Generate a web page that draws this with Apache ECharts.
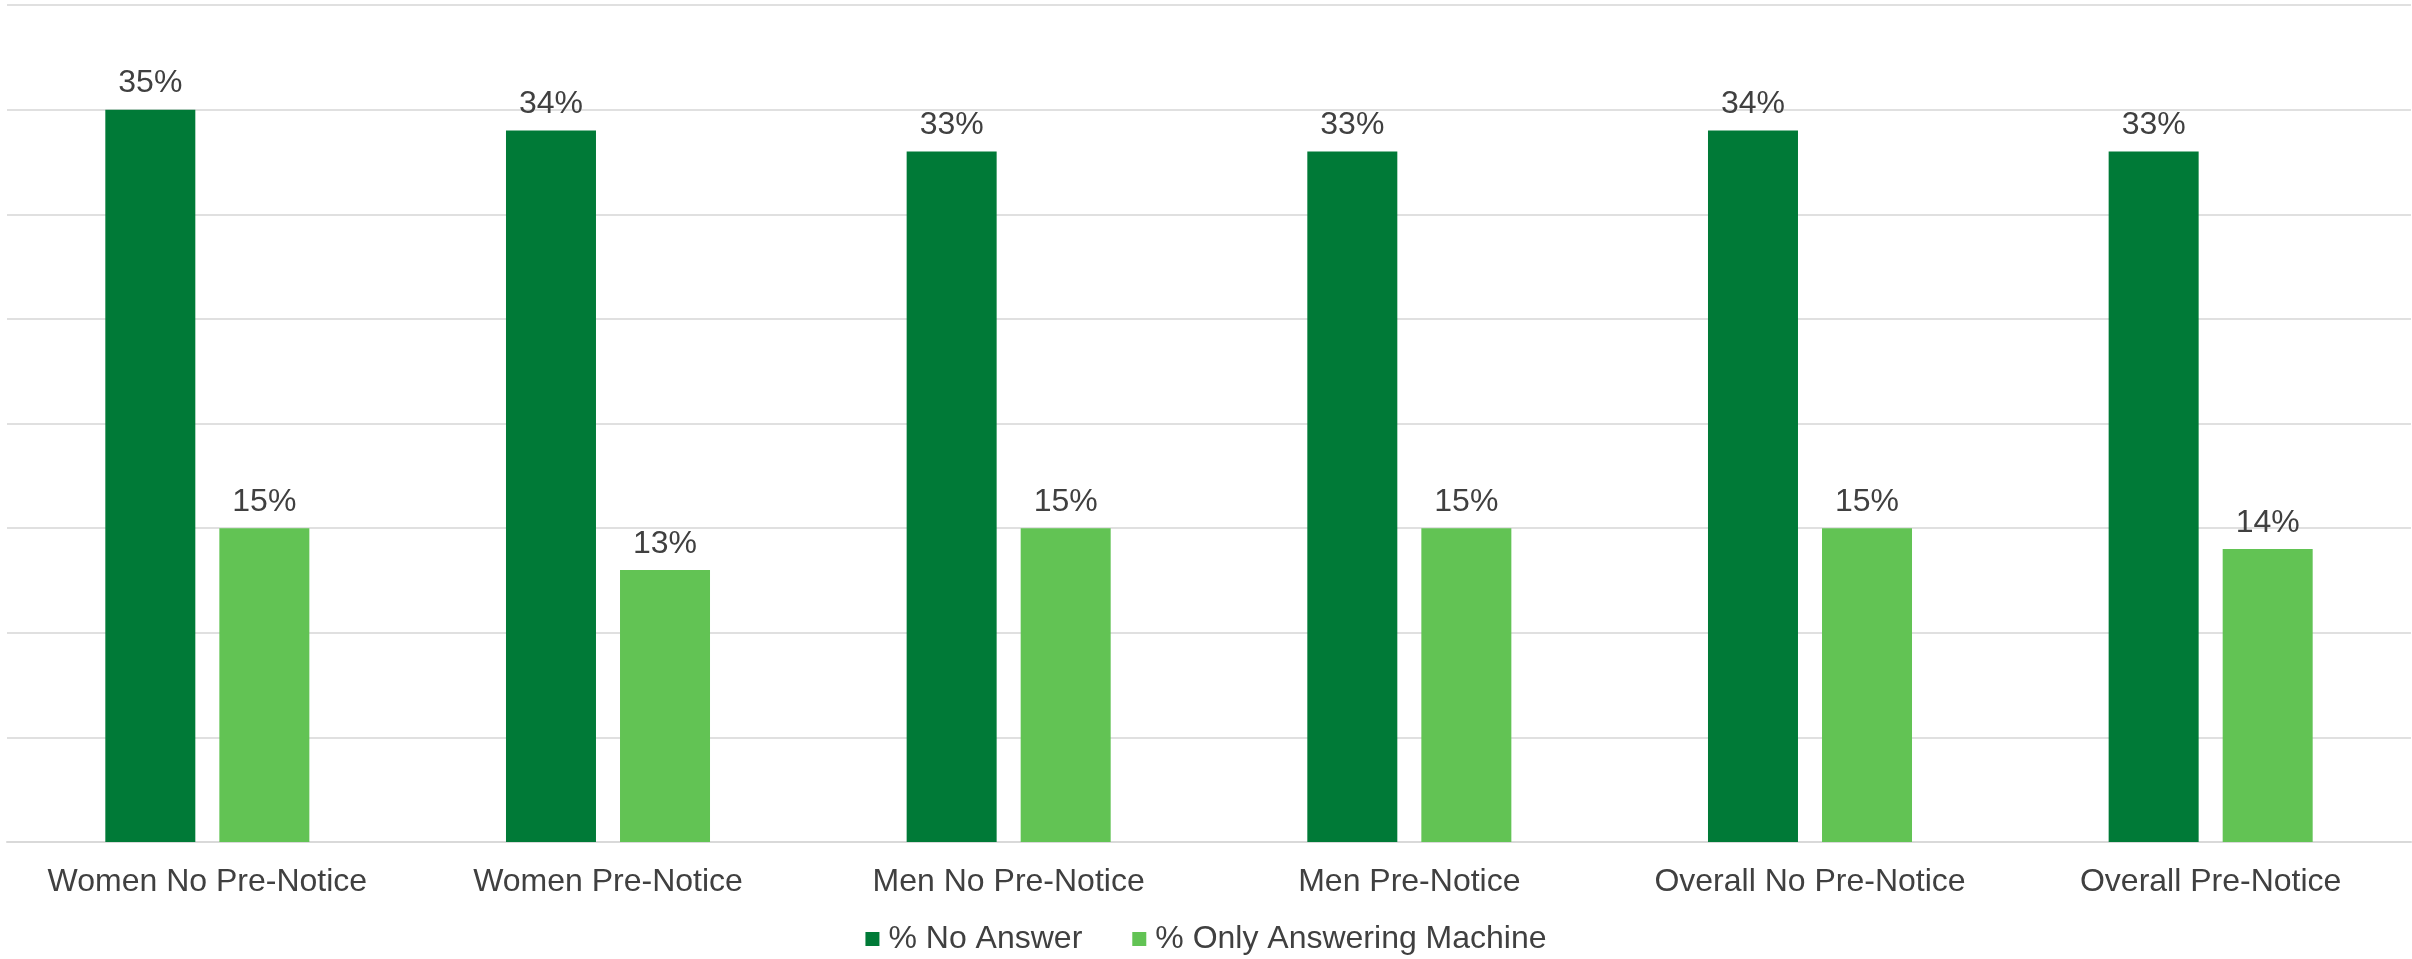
<!DOCTYPE html>
<html>
<head>
<meta charset="utf-8">
<script src="https://cdn.jsdelivr.net/npm/echarts@6/dist/echarts.min.js"></script>
<style>
  html, body { margin: 0; padding: 0; background: #ffffff; }
  #chart { width: 2412px; height: 959px; }
</style>
</head>
<body>
<div id="chart"></div>
<script>
// Survey contact outcomes by group (percent of calls)
const categories = [
  'Women No Pre-Notice',
  'Women Pre-Notice',
  'Men No Pre-Notice',
  'Men Pre-Notice',
  'Overall No Pre-Notice',
  'Overall Pre-Notice'
];
const noAnswer = [35, 34, 33, 33, 34, 33];
const onlyMachine = [15, 13, 15, 15, 15, 14];
const seriesNames = ['% No Answer', '% Only Answering Machine'];

const textColor = '#404040';
const fontFamily = '"Liberation Sans", Arial, sans-serif';

const chart = echarts.init(document.getElementById('chart'));

const valueLabel = {
  show: true,
  position: 'top',
  distance: 10,
  color: textColor,
  fontSize: 32,
  fontFamily: fontFamily,
  formatter: p => p.value + '%'
};

chart.setOption({
  animation: false,
  backgroundColor: '#ffffff',
  grid: { left: 7, right: 1, top: 5, bottom: 117, containLabel: false },
  legend: {
    data: seriesNames,
    bottom: -1,
    left: 'center',
    itemWidth: 14,
    itemHeight: 14,
    itemGap: 50,
    icon: 'rect',
    textStyle: { color: textColor, fontSize: 32, fontFamily: fontFamily, padding: [0, 0, 0, 4] }
  },
  xAxis: {
    type: 'category',
    data: categories,
    axisLine: { show: true, lineStyle: { color: '#d9d9d9', width: 2 } },
    axisTick: { show: false },
    axisLabel: { interval: 0, color: textColor, fontSize: 32, fontFamily: fontFamily, margin: 24 }
  },
  yAxis: {
    type: 'value',
    min: 0,
    max: 40,
    interval: 5,
    axisLine: { show: false },
    axisTick: { show: false },
    axisLabel: { show: false },
    splitLine: { lineStyle: { color: '#e0e0e0', width: 2 } }
  },
  series: [
    {
      name: seriesNames[0],
      type: 'bar',
      data: noAnswer,
      barWidth: 90,
      barGap: '26.7%',
      itemStyle: { color: '#007a37' },
      label: valueLabel
    },
    {
      name: seriesNames[1],
      type: 'bar',
      data: onlyMachine,
      barWidth: 90,
      barGap: '26.7%',
      itemStyle: { color: '#62c354' },
      label: valueLabel
    }
  ]
});
</script>
</body>
</html>
